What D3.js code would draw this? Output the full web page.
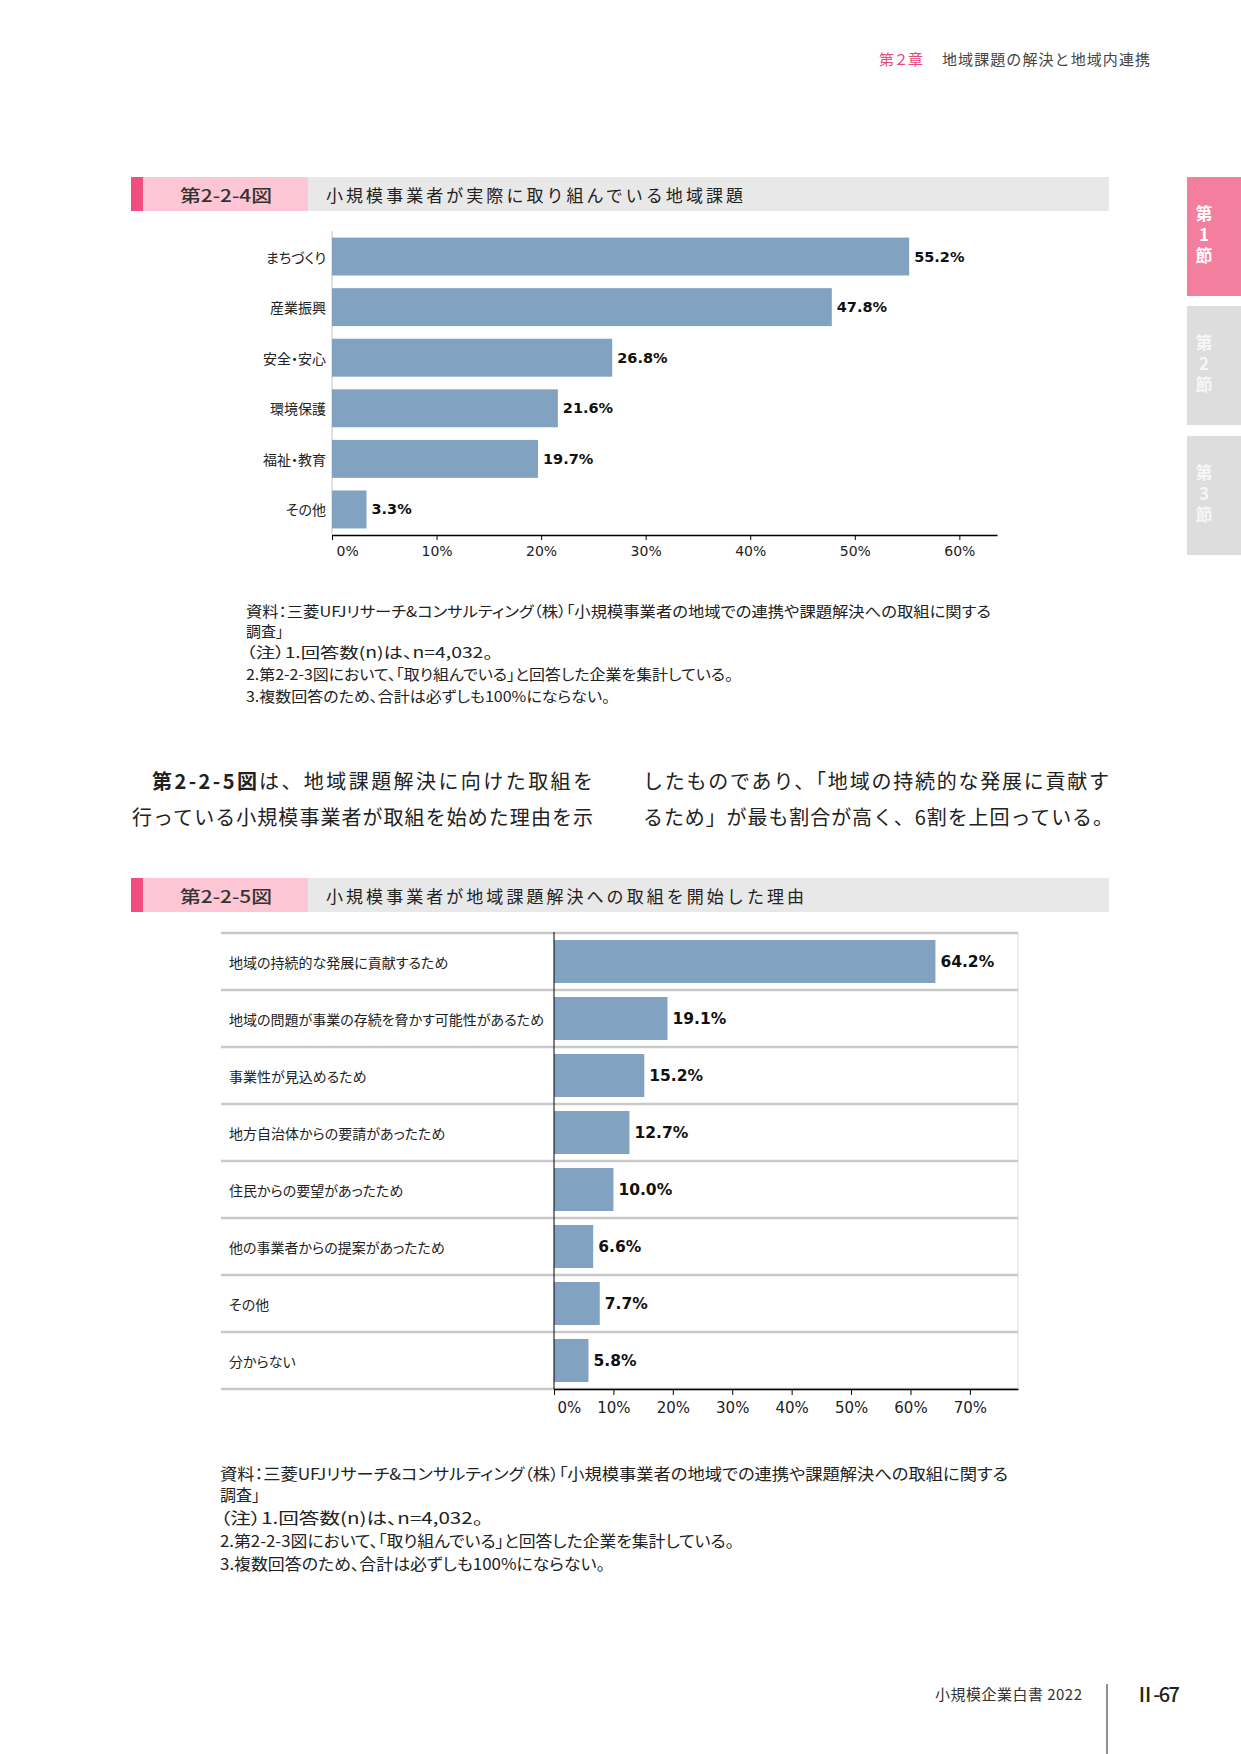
<!DOCTYPE html>
<html lang="ja">
<head>
<meta charset="utf-8">
<title>第2-2-4図 / 第2-2-5図</title>
<script src="https://cdn.jsdelivr.net/npm/d3@7"></script>
<style>
  body { margin: 0; background: #fff; }
  svg { display: block; }
  .jp { font-family: "Noto Sans CJK JP", "Noto Sans", sans-serif; }
  .palt { font-feature-settings: "palt"; }
  .num { font-family: "DejaVu Sans", Verdana, sans-serif; }
  .vert { writing-mode: vertical-rl; text-orientation: upright; }
</style>
</head>
<body>
<script>

// chart 1 : 小規模事業者が実際に取り組んでいる地域課題
let cats1 = ["まちづくり", "産業振興", "安全・安心", "環境保護", "福祉・教育", "その他"];
let vals1 = [55.2, 47.8, 26.8, 21.6, 19.7, 3.3];
let ticks1 = [0, 10, 20, 30, 40, 50, 60];

// chart 2 : 小規模事業者が地域課題解決への取組を開始した理由
let cats2 = ["地域の持続的な発展に貢献するため", "地域の問題が事業の存続を脅かす可能性があるため",
             "事業性が見込めるため", "地方自治体からの要請があったため", "住民からの要望があったため",
             "他の事業者からの提案があったため", "その他", "分からない"];
let vals2 = [64.2, 19.1, 15.2, 12.7, 10.0, 6.6, 7.7, 5.8];
let ticks2 = [0, 10, 20, 30, 40, 50, 60, 70];

let notes1 = ["資料：三菱UFJリサーチ&コンサルティング（株）「小規模事業者の地域での連携や課題解決への取組に関する",
              "調査」",
              "（注）1.回答数(n)は、n=4,032。",
              "2.第2-2-3図において、「取り組んでいる」と回答した企業を集計している。",
              "3.複数回答のため、合計は必ずしも100%にならない。"];
let notes2 = notes1;

let w = 1241, h = 1754;
let barColor = "#82a2c1";

let svg = d3.select("body").append("svg")
  .attr("width", w).attr("height", h);

// page header
svg.append("text").attr("class", "jp").attr("x", 879).attr("y", 58)
  .attr("dominant-baseline", "central").attr("font-size", 15).attr("fill", "#ea4a7e")
  .attr("textLength", 44).text("第２章");
svg.append("text").attr("class", "jp").attr("x", 942).attr("y", 58)
  .attr("dominant-baseline", "central").attr("font-size", 15).attr("fill", "#444")
  .attr("textLength", 208).text("地域課題の解決と地域内連携");

// side tabs
let tabs = [{t: "1", y: 177, c: "#f47e9e", f: "#fff"},
            {t: "2", y: 306, c: "#dddddd", f: "#f6f6f6"},
            {t: "3", y: 436, c: "#dddddd", f: "#f6f6f6"}];
tabs.forEach(d => {
  svg.append("rect").attr("x", 1187).attr("y", d.y).attr("width", 60).attr("height", 119).attr("fill", d.c);
  svg.append("text").attr("class", "jp vert").attr("x", 1204).attr("y", d.y + 28)
    .attr("font-size", 17).attr("font-weight", 700).attr("letter-spacing", 4)
    .attr("fill", d.f).text("第" + d.t + "節");
});

// title bar
function titleBar(y, label, title, titleLen) {
  svg.append("rect").attr("x", 131).attr("y", y).attr("width", 978).attr("height", 34).attr("fill", "#e8e8e8");
  svg.append("rect").attr("x", 131).attr("y", y).attr("width", 177).attr("height", 34).attr("fill", "#fcc6d4");
  svg.append("rect").attr("x", 131).attr("y", y).attr("width", 12).attr("height", 34).attr("fill", "#f04d80");
  svg.append("text").attr("class", "jp").attr("x", 180).attr("y", y + 17)
    .attr("dominant-baseline", "central").attr("font-size", 17).attr("font-weight", 500)
    .attr("fill", "#333").attr("textLength", 92).attr("lengthAdjust", "spacingAndGlyphs").text(label);
  svg.append("text").attr("class", "jp").attr("x", 326).attr("y", y + 17)
    .attr("dominant-baseline", "central").attr("font-size", 17).attr("font-weight", 400)
    .attr("fill", "#222").attr("textLength", titleLen).text(title);
}

function notes(lines, x, ys, lens, size) {
  lines.forEach((s, i) => {
    let t = svg.append("text").attr("class", "jp palt").attr("x", x).attr("y", ys[i])
      .attr("dominant-baseline", "central").attr("font-size", size).attr("fill", "#222").text(s);
    if (lens[i]) t.attr("textLength", lens[i]).attr("lengthAdjust", "spacingAndGlyphs");
  });
}

// ---------- chart 1 ----------
titleBar(177, "第2-2-4図", "小規模事業者が実際に取り組んでいる地域課題", 417);

let x1 = d3.scaleLinear().domain([0, 63.6]).range([332, 997]);
let y1 = d3.scaleBand().domain(cats1).range([231, 535]).paddingInner(0.25).paddingOuter(0.13);

let data1 = cats1.map((c, i) => ({c: c, v: vals1[i]}));

svg.append("line").attr("x1", 332).attr("x2", 332).attr("y1", 231).attr("y2", 535)
  .attr("stroke", "#c4c4c4");

svg.selectAll("rect.bar1").data(data1).enter().append("rect")
  .attr("class", "bar1")
  .attr("x", x1(0)).attr("y", d => y1(d.c))
  .attr("width", d => x1(d.v) - x1(0)).attr("height", y1.bandwidth())
  .attr("fill", barColor);

svg.selectAll("text.cat1").data(data1).enter().append("text")
  .attr("class", "cat1 jp palt")
  .attr("x", 326).attr("y", d => y1(d.c) + y1.bandwidth() / 2)
  .attr("text-anchor", "end").attr("dominant-baseline", "central")
  .attr("font-size", 14).attr("fill", "#222").text(d => d.c);

svg.selectAll("text.val1").data(data1).enter().append("text")
  .attr("class", "val1 num")
  .attr("x", d => x1(d.v) + 5).attr("y", d => y1(d.c) + y1.bandwidth() / 2)
  .attr("dominant-baseline", "central")
  .attr("font-size", 14.5).attr("font-weight", 700).attr("fill", "#111")
  .text(d => d.v.toFixed(1) + "%");

let ax1 = svg.append("g").attr("transform", "translate(0,535)")
  .call(d3.axisBottom(x1).tickValues(ticks1).tickFormat(d => d + "%").tickSize(5).tickSizeOuter(0));
ax1.select(".domain").attr("stroke", "#000").attr("stroke-width", 1.5);
ax1.selectAll(".tick line").attr("stroke", "#000");
ax1.selectAll(".tick text").attr("class", "num").attr("font-size", 14).attr("fill", "#222").attr("y", 11);
ax1.selectAll(".tick text").filter(d => d === 0).attr("text-anchor", "start").attr("x", 4);

notes(notes1, 246, [610, 630, 651, 673, 695], [745, 0, 247, 487, 364], 15);

// ---------- paragraph ----------
let para = svg.append("g").attr("class", "jp").attr("fill", "#222").attr("font-size", 20);
para.append("text").attr("x", 152).attr("y", 780).attr("dominant-baseline", "central")
  .attr("font-weight", 700).attr("textLength", 105).text("第2-2-5図");
para.append("text").attr("x", 259).attr("y", 780).attr("dominant-baseline", "central")
  .attr("textLength", 334).text("は、地域課題解決に向けた取組を");
para.append("text").attr("x", 132).attr("y", 816).attr("dominant-baseline", "central")
  .attr("textLength", 461).text("行っている小規模事業者が取組を始めた理由を示");
para.append("text").attr("x", 643).attr("y", 780).attr("dominant-baseline", "central")
  .attr("textLength", 466).text("したものであり、「地域の持続的な発展に貢献す");
para.append("text").attr("x", 643).attr("y", 816).attr("dominant-baseline", "central")
  .attr("textLength", 470).text("るため」が最も割合が高く、6割を上回っている。");

// ---------- chart 2 ----------
titleBar(878, "第2-2-5図", "小規模事業者が地域課題解決への取組を開始した理由", 478);

let x2 = d3.scaleLinear().domain([0, 78.1]).range([554, 1018]);
let y2 = d3.scaleBand().domain(cats2).range([933, 1389]).paddingInner(0.245).paddingOuter(0.1225);

let data2 = cats2.map((c, i) => ({c: c, v: vals2[i]}));
let rows = d3.range(cats2.length + 1).map(i => y2.range()[0] + i * y2.step());

svg.append("line").attr("x1", 1018).attr("x2", 1018).attr("y1", 933).attr("y2", 1389)
  .attr("stroke", "#dcdcdc");

svg.selectAll("line.row").data(rows).enter().append("line")
  .attr("class", "row")
  .attr("x1", 221).attr("x2", 1018).attr("y1", d => d).attr("y2", d => d)
  .attr("stroke", "#c9c9c9").attr("stroke-width", 2.5);

svg.selectAll("rect.bar2").data(data2).enter().append("rect")
  .attr("class", "bar2")
  .attr("x", x2(0)).attr("y", d => y2(d.c))
  .attr("width", d => x2(d.v) - x2(0)).attr("height", y2.bandwidth())
  .attr("fill", barColor);

svg.append("line").attr("x1", 554).attr("x2", 554).attr("y1", 932).attr("y2", 1389)
  .attr("stroke", "#000");

svg.selectAll("text.cat2").data(data2).enter().append("text")
  .attr("class", "cat2 jp palt")
  .attr("x", 229).attr("y", d => y2(d.c) + y2.bandwidth() / 2)
  .attr("dominant-baseline", "central")
  .attr("font-size", 14).attr("fill", "#222").text(d => d.c);

svg.selectAll("text.val2").data(data2).enter().append("text")
  .attr("class", "val2 num")
  .attr("x", d => x2(d.v) + 5).attr("y", d => y2(d.c) + y2.bandwidth() / 2)
  .attr("dominant-baseline", "central")
  .attr("font-size", 15.5).attr("font-weight", 700).attr("fill", "#111")
  .text(d => d.v.toFixed(1) + "%");

let ax2 = svg.append("g").attr("transform", "translate(0,1389)")
  .call(d3.axisBottom(x2).tickValues(ticks2).tickFormat(d => d + "%").tickSize(6).tickSizeOuter(0));
ax2.select(".domain").attr("stroke", "#000").attr("stroke-width", 1.5);
ax2.selectAll(".tick line").attr("stroke", "#000");
ax2.selectAll(".tick text").attr("class", "num").attr("font-size", 15).attr("fill", "#222").attr("y", 13);
ax2.selectAll(".tick text").filter(d => d === 0).attr("text-anchor", "start").attr("x", 3);

notes(notes2, 220, [1473, 1494, 1517, 1540, 1563], [788, 0, 263, 514, 385], 16);

// ---------- footer ----------
svg.append("text").attr("class", "jp").attr("x", 935).attr("y", 1693)
  .attr("dominant-baseline", "central").attr("font-size", 15).attr("fill", "#333")
  .attr("textLength", 147).text("小規模企業白書 2022");
svg.append("line").attr("x1", 1107).attr("x2", 1107).attr("y1", 1684).attr("y2", 1754)
  .attr("stroke", "#222");
svg.append("text").attr("class", "jp").attr("x", 1135).attr("y", 1693)
  .attr("dominant-baseline", "central").attr("font-size", 20).attr("font-weight", 500)
  .attr("fill", "#222").attr("textLength", 45).text("Ⅱ-67");

</script>
</body>
</html>
